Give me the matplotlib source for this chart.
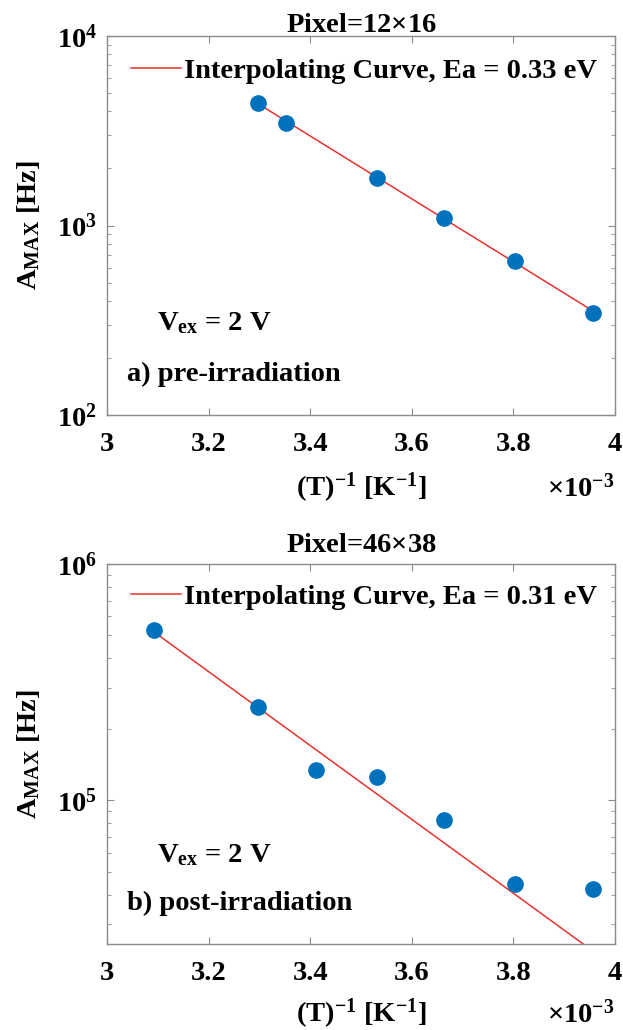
import numpy as np
import matplotlib
matplotlib.use("Agg")
import matplotlib.pyplot as plt
from matplotlib.ticker import FixedLocator, FuncFormatter, LogLocator, NullFormatter

# ---------------- data (x in units of 1e-3 K^-1) ----------------
invT_a = [3.298, 3.353, 3.532, 3.664, 3.804, 3.956]
amax_a = [4415, 3467, 1790, 1090, 653, 346]
fit_x_a = [3.298, 3.956]
fit_y_a = [4380, 355]

invT_b = [3.093, 3.298, 3.411, 3.532, 3.664, 3.804, 3.956]
amax_b = [5.26e5, 2.49e5, 1.35e5, 1.26e5, 8.23e4, 4.45e4, 4.20e4]
fit_x_b = [3.093, 3.956]
fit_y_b = [5.15e5, 2.31e4]

titles = ["Pixel=12$\\times$16", "Pixel=46$\\times$38"]
legend_labels = ["Interpolating Curve, Ea = 0.33 eV", "Interpolating Curve, Ea = 0.31 eV"]
panel_labels = ["a) pre-irradiation", "b) post-irradiation"]
xticks = [3, 3.2, 3.4, 3.6, 3.8, 4]
ylims = [(1e2, 1e4), (2.47e4, 1e6)]
yticks = [[1e2, 1e3, 1e4], [1e5, 1e6]]

# ---------------- style ----------------
plt.rcParams['font.family'] = ['Liberation Serif', 'DejaVu Serif']
plt.rcParams['font.weight'] = 'bold'
plt.rcParams['mathtext.fontset'] = 'custom'
plt.rcParams['mathtext.rm'] = 'Liberation Serif:bold'
plt.rcParams['mathtext.it'] = 'Liberation Serif:bold'
plt.rcParams['mathtext.bf'] = 'Liberation Serif:bold'
plt.rcParams['mathtext.default'] = 'rm'

FS = 20.5
EDGE = '#8c8c8c'
BLUE = '#0072BD'
RED = '#e8322e'

fig = plt.figure(figsize=(6.23, 10.30), dpi=100)
W, H = 623, 1030

def px_axes(l, r, t, b):
    return fig.add_axes([l / W, 1 - b / H, (r - l) / W, (b - t) / H])

ax_a = px_axes(107, 615, 36, 415)
ax_b = px_axes(107, 615, 564, 944)

def ytick_fmt(v, pos):
    e = int(round(np.log10(v)))
    return "$10^{%d}$" % e

def xtick_fmt(v, pos):
    return "%g" % v

panels = [
    (ax_a, invT_a, amax_a, fit_x_a, fit_y_a, 0),
    (ax_b, invT_b, amax_b, fit_x_b, fit_y_b, 1),
]

geo = {
    0: dict(title_y=1.011, leg_y=0.908, vex_y=0.224, lab_y=0.090, xl_y=-0.193),
    1: dict(title_y=1.032, leg_y=0.913, vex_y=0.216, lab_y=0.090, xl_y=-0.185),
}

for ax, xs, ys, fx, fy, i in panels:
    g = geo[i]
    ax.set_yscale('log')
    line, = ax.plot(fx, fy, color=RED, lw=1.1, zorder=2)
    ax.plot(xs, ys, 'o', color=BLUE, ms=11, mec=BLUE, zorder=3)
    ax.set_xlim(3, 4)
    ax.set_ylim(*ylims[i])
    ax.xaxis.set_major_locator(FixedLocator(xticks))
    ax.xaxis.set_major_formatter(FuncFormatter(xtick_fmt))
    ax.yaxis.set_major_locator(FixedLocator(yticks[i]))
    ax.yaxis.set_major_formatter(FuncFormatter(ytick_fmt))
    ax.yaxis.set_minor_locator(LogLocator(base=10, subs=np.arange(2, 10), numticks=20))
    ax.yaxis.set_minor_formatter(NullFormatter())
    ax.tick_params(axis='both', which='both', direction='in', top=True, right=True,
                   color=EDGE, labelsize=FS)
    ax.tick_params(axis='both', which='major', length=5, width=0.8)
    ax.tick_params(axis='both', which='minor', length=3, width=0.6)
    ax.tick_params(axis='x', which='major', pad=12)
    ax.tick_params(axis='y', which='major', pad=7)
    for s in ax.spines.values():
        s.set_color(EDGE)
        s.set_linewidth(1.0)

    ax.text(0.5, g['title_y'], titles[i], transform=ax.transAxes, ha='center',
            va='baseline', fontsize=FS, fontweight='bold')
    ax.legend([line], [legend_labels[i]], loc='center right', frameon=False,
              bbox_to_anchor=(0.965, g['leg_y']), borderaxespad=0, borderpad=0,
              handlelength=1.75, handletextpad=0.1, fontsize=FS)
    ax.text(0.098, g['vex_y'], "V$_{\\rm ex}$ = 2 V", transform=ax.transAxes,
            ha='left', va='baseline', fontsize=FS, fontweight='bold')
    ax.text(0.039, g['lab_y'], panel_labels[i], transform=ax.transAxes,
            ha='left', va='baseline', fontsize=FS, fontweight='bold')

    ax.set_ylabel("A$_{\\rm MAX}$ [Hz]", fontsize=FS, fontweight='bold', va='center')
    ax.yaxis.set_label_coords(-0.155, 0.5)
    ax.set_xlabel("(T)$^{-1}$ [K$^{-1}$]", fontsize=FS, fontweight='bold', va='center')
    ax.xaxis.set_label_coords(0.5, g['xl_y'])
    ax.text(1.0, g['xl_y'], "$\\times10^{-3}$", transform=ax.transAxes,
            ha='right', va='center', fontsize=FS, fontweight='bold')

fig.savefig("out.png", dpi=100)
